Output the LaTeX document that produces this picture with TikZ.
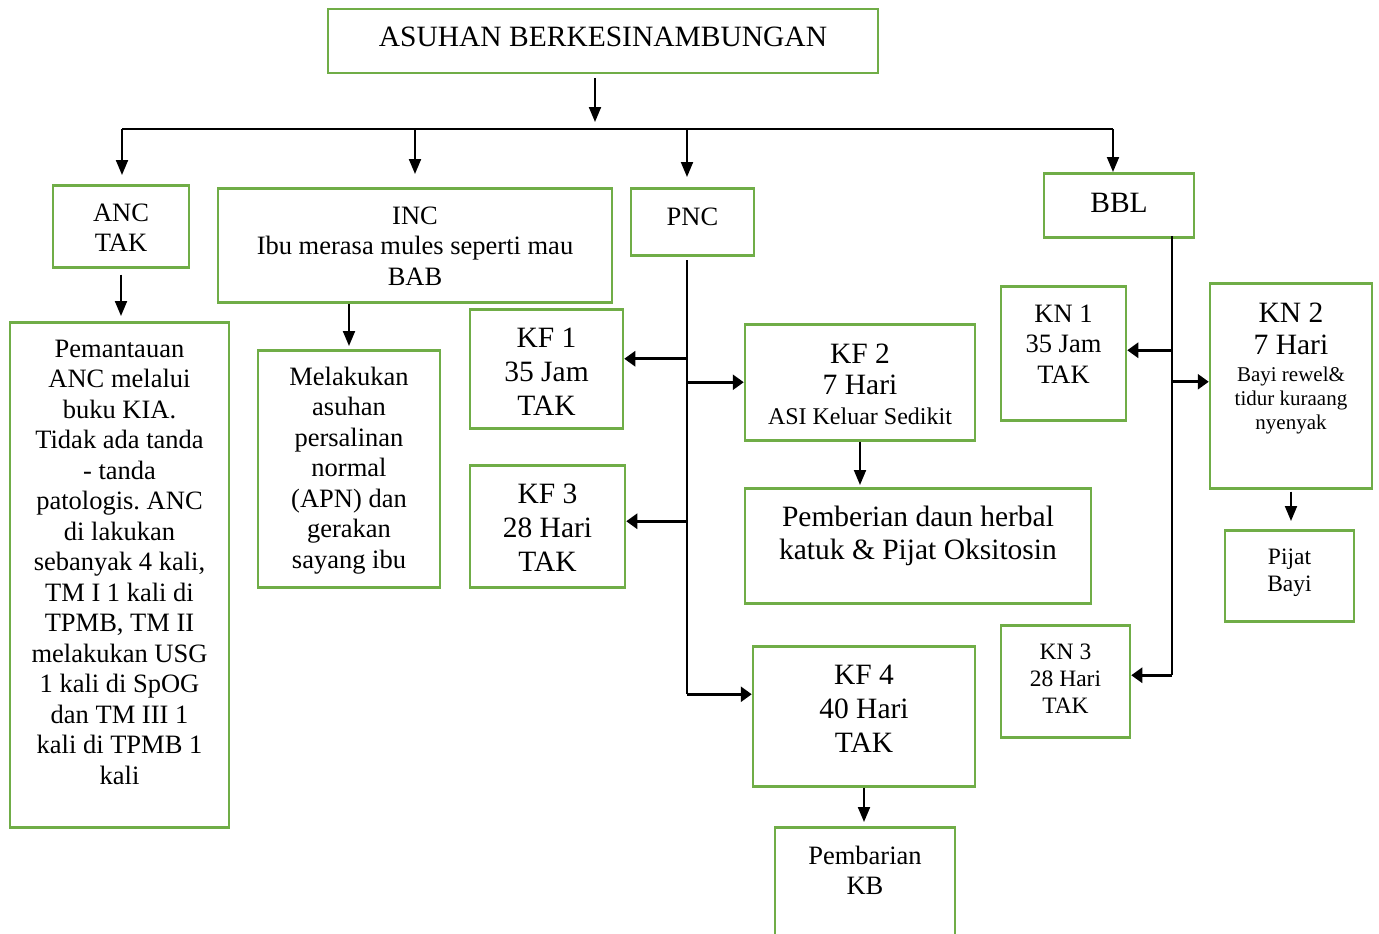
\documentclass[tikz,border=0pt]{standalone}
\usepackage{fontspec}
\setmainfont{Liberation Serif}
\usetikzlibrary{arrows.meta}
\frenchspacing

\definecolor{boxgreen}{RGB}{112,173,71}

\begin{document}
\begin{tikzpicture}[x=1pt, y=-1pt,
    box/.style={draw=boxgreen, line width=2.5pt, anchor=north, align=flush center,
                inner sep=0pt, font=\fontsize{26.5}{30.5}\selectfont},
    big/.style={font=\fontsize{29.5}{34}\selectfont},
    small/.style={font=\fontsize{23.5}{27}\selectfont},
    varr/.style={-{Triangle[length=15pt,width=12pt]}, line width=2pt},
    harr/.style={-{Triangle[length=11pt,width=15pt]}, line width=2.8pt},
    trunk/.style={line width=1.2pt}]
\useasboundingbox (0,0) rectangle (1379,934);

\node[box, big, text width=550, text height=37, text depth=27] (title) at (603,8) {ASUHAN BERKESINAMBUNGAN};

\node[box, text width=136, text height=36, text depth=46] (anc) at (121,184) {ANC\\TAK};
\node[box, text width=394, text height=36, text depth=78] (inc) at (415,187) {INC\\Ibu merasa mules seperti mau\\BAB};
\node[box, text width=123, text height=37, text depth=30] (pnc) at (692.5,187) {PNC};
\node[box, big, text width=150, text height=39, text depth=25] (bbl) at (1119,172) {BBL};

\node[box, text width=219, text height=35, text depth=470] (pem) at (119.5,321) {Pemantauan\\ANC melalui\\buku KIA.\\Tidak ada tanda\\- tanda\\patologis. ANC\\di lakukan\\sebanyak 4 kali,\\TM I 1 kali di\\TPMB, TM II\\melakukan USG\\1 kali di SpOG\\dan TM III 1\\kali di TPMB 1\\kali};
\node[box, text width=182, text height=35, text depth=202] (mel) at (349,349) {Melakukan\\asuhan\\persalinan\\normal\\(APN) dan\\gerakan\\sayang ibu};

\node[box, big, text width=153, text height=38, text depth=81] (kf1) at (546.5,308) {KF 1\\35 Jam\\TAK};
\node[box, big, text width=155, text height=38, text depth=84] (kf3) at (547.5,464) {KF 3\\28 Hari\\TAK};
\node[box, big, text width=230, text height=39, text depth=77] (kf2) at (860,323) {KF 2\\[-3pt]7 Hari\\[-4pt]{\fontsize{24}{28}\selectfont ASI Keluar Sedikit}};
\node[box, big, text width=346, text height=38, text depth=77] (herbal) at (918,487) {Pemberian daun herbal\\[-1pt]katuk \& Pijat Oksitosin};
\node[box, big, text width=222, text height=38, text depth=102] (kf4) at (864,645) {KF 4\\40 Hari\\TAK};
\node[box, text width=180, text height=37, text depth=82] (kb) at (865,826) {Pembarian\\KB};

\node[box, text width=125, text height=36, text depth=98] (kn1) at (1063.5,285) {KN 1\\35 Jam\\TAK};
\node[box, big, text width=162, text height=39, text depth=166] (kn2) at (1291,282) {KN 2\\[-2pt]7 Hari\par\vspace{3pt}\fontsize{21}{24}\selectfont Bayi rewel\&\\tidur kuraang\\nyenyak\par};
\node[box, small, text width=129, text height=34, text depth=57] (pijat) at (1289.5,529) {Pijat\\Bayi};
\node[box, small, text width=129, text height=34, text depth=78] (kn3) at (1065.5,624) {KN 3\\28 Hari\\TAK};

\coordinate (split) at (595,129);
\coordinate (barL) at (122,129);
\coordinate (barR) at (1113,129);
\coordinate (pv) at (687,260);
\coordinate (bv) at (1172,236);

\draw[varr, shorten <=4pt, shorten >=7pt] (title.south -| split) -- (split);
\draw[line width=1.6pt] (barL) -- (barR);
\draw[varr, shorten >=9pt] (barL) -- (barL |- anc.north);
\draw[varr, shorten >=13pt] (inc.north |- barL) -- (inc.north);
\draw[varr, shorten >=10pt] (pv |- barL) -- (pv |- pnc.north);
\draw[varr] (barR) -- (barR |- bbl.north);

\draw[varr, shorten <=6pt, shorten >=5pt] (anc.south) -- (anc.south |- pem.north);
\draw[varr, shorten >=3pt] (inc.south -| mel.north) -- (mel.north);

\draw[trunk] (pv) -- ([yshift=22]kf4.west -| pv);
\draw[harr] ([yshift=10]kf1.east -| pv) -- ([yshift=10]kf1.east);
\draw[harr] (kf2.west -| pv) -- (kf2.west);
\draw[harr] ([yshift=5]kf3.east -| pv) -- ([yshift=5]kf3.east);
\draw[harr] ([yshift=22]kf4.west -| pv) -- ([yshift=22]kf4.west);
\draw[varr, shorten >=2pt] (kf2.south) -- (kf2.south |- herbal.north);
\draw[varr, shorten >=4pt] (kf4.south) -- (kf4.south |- kb.north);

\draw[trunk] (bv) -- ([yshift=6]kn3.east -| bv);
\draw[harr] ([yshift=3]kn1.east -| bv) -- ([yshift=3]kn1.east);
\draw[harr] ([yshift=4]kn2.west -| bv) -- ([yshift=4]kn2.west);
\draw[harr] ([yshift=6]kn3.east -| bv) -- ([yshift=6]kn3.east);
\draw[varr, shorten <=2pt, shorten >=8pt] (kn2.south) -- (kn2.south |- pijat.north);
\end{tikzpicture}
\end{document}
